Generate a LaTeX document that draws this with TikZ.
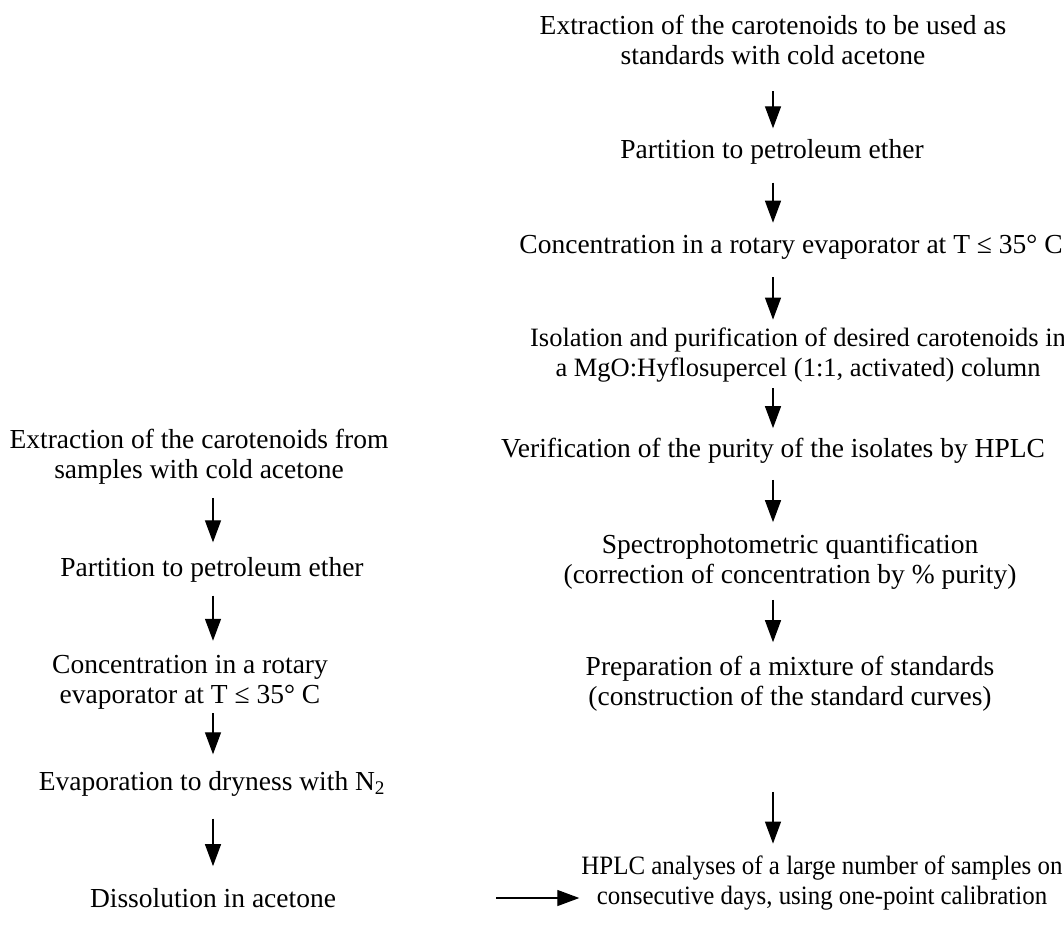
\documentclass[tikz,border=0pt]{standalone}
\usepackage{fontspec}
\setmainfont{Liberation Serif}
\usetikzlibrary{arrows.meta}
\begin{document}
\begin{tikzpicture}[x=1pt,y=-1pt,
  txt/.style={inner sep=0pt,align=center,font=\fontsize{27.5}{30}\selectfont},
  arr/.style={line width=1.3pt,-{Triangle[width=16pt,length=22pt]}}]
\useasboundingbox (0,0) rectangle (1064,924);
\coordinate (cR) at (773,0);
\coordinate (cL) at (213,0);
% right column
\node[txt] (R1) at (773,40) {Extraction of the carotenoids to be used as\\standards with cold acetone};
\node[txt] (R2) at (772,152) {Partition to petroleum ether};
\node[txt] (R3) at (791,247) {Concentration in a rotary evaporator at T ≤ 35° C};
\node[txt,font=\fontsize{26.5}{30}\selectfont] (R4) at (798,355) {Isolation and purification of desired carotenoids in\\a MgO:Hyflosupercel (1:1, activated) column};
\node[txt] (R5) at (773,451) {Verification of the purity of the isolates by HPLC};
\node[txt] (R6) at (790,562) {Spectrophotometric quantification\\(correction of concentration by \% purity)};
\node[txt] (R7) at (790,684) {Preparation of a mixture of standards\\(construction of the standard curves)};
\node[txt,font=\fontsize{26.5}{30}\selectfont\addfontfeature{FakeStretch=0.94}] (R8) at (822,883) {HPLC analyses of a large number of samples on\\consecutive days, using one-point calibration};
% left column
\node[txt] (L1) at (199,457) {Extraction of the carotenoids from\\samples with cold acetone};
\node[txt] (L2) at (212,570) {Partition to petroleum ether};
\node[txt] (L3) at (190,682) {Concentration in a rotary\\evaporator at T ≤ 35° C};
\node[txt] (L4) at (212,784) {Evaporation to dryness with N\textsubscript{2}};
\node[txt] (L5) at (213,898) {Dissolution in acetone};
% arrows
\draw[arr,shorten <=26pt,shorten >=11pt] (R1.south -| cR) -- (R2.north -| cR);
\draw[arr,shorten <=18pt,shorten >=12pt] (R2.south -| cR) -- (R3.north -| cR);
\draw[arr,shorten <=18pt,shorten >=8pt] (R3.south -| cR) -- (R4.north -| cR);
\draw[arr,shorten <=6pt,shorten >=10pt] (R4.south -| cR) -- (R5.north -| cR);
\draw[arr,shorten <=16pt,shorten >=12pt] (R5.south -| cR) -- (R6.north -| cR);
\draw[arr,shorten <=10pt,shorten >=14pt] (R6.south -| cR) -- (R7.north -| cR);
\draw[arr,shorten <=80pt,shorten >=12pt] (R7.south -| cR) -- (R8.north -| cR);
\draw[arr,shorten <=13pt,shorten >=15pt] (L1.south -| cL) -- (L2.north -| cL);
\draw[arr,shorten <=13pt,shorten >=14pt] (L2.south -| cL) -- (L3.north -| cL);
\draw[arr,shorten <=4pt,shorten >=17pt] (L3.south -| cL) -- (L4.north -| cL);
\draw[arr,shorten <=22pt,shorten >=22pt] (L4.south -| cL) -- (L5.north -| cL);
\draw[arr,shorten <=160pt,shorten >=2pt] (L5.east) -- (L5.east -| R8.west);
\end{tikzpicture}
\end{document}
